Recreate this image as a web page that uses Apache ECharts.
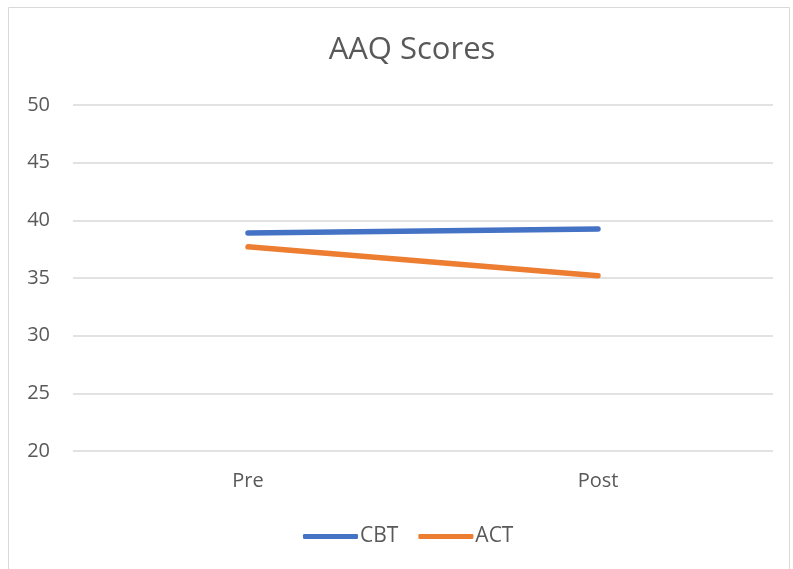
<!DOCTYPE html>
<html>
<head>
<meta charset="utf-8">
<script src="https://cdn.jsdelivr.net/npm/echarts@6/dist/echarts.min.js"></script>
<style>
  html, body { margin: 0; padding: 0; background: #fff; }
  #main { width: 793px; height: 569px; }
</style>
</head>
<body>
<div id="main"></div>
<script>
var categories = ['Pre', 'Post'];
var cbtScores = [38.9, 39.25];
var actScores = [37.7, 35.2];
var yTicks = { min: 20, max: 50, step: 5 };

var myChart = echarts.init(document.getElementById('main'));
var font = '"Open Sans", "Noto Sans", sans-serif';

var option = {
    backgroundColor: '#fff',
    animation: false,
    // light outer frame of the chart area
    graphic: [{
        type: 'rect',
        shape: { x: 8.5, y: 7.5, width: 781, height: 580 },
        style: { fill: 'none', stroke: '#d9d9d9', lineWidth: 1 }
    }],
    title: {
        text: 'AAQ Scores',
        left: 407,
        textAlign: 'center',
        top: 30,
        textStyle: { fontFamily: font, fontSize: 31, fontWeight: 'normal', color: '#595959' }
    },
    legend: {
        bottom: 17,
        left: 298,
        itemWidth: 55,
        itemHeight: 5,
        itemGap: 20,
        textStyle: { fontFamily: font, fontSize: 21, color: '#595959', padding: [0, 0, 0, -3] },
        data: [
            { name: 'CBT', icon: 'roundRect' },
            { name: 'ACT', icon: 'roundRect' }
        ]
    },
    grid: { left: 73, right: 20, top: 105, bottom: 118 },
    xAxis: {
        type: 'category',
        data: categories,
        boundaryGap: true,
        axisLine: { show: false },
        axisTick: { show: false },
        axisLabel: { fontFamily: font, fontSize: 20, color: '#595959', margin: 20 }
    },
    yAxis: {
        type: 'value',
        min: yTicks.min,
        max: yTicks.max,
        interval: yTicks.step,
        axisLine: { show: false },
        axisTick: { show: false },
        splitLine: { lineStyle: { color: '#d9d9d9', width: 1.5 } },
        axisLabel: { fontFamily: font, fontSize: 20, color: '#595959', margin: 23 }
    },
    series: [
        {
            name: 'CBT',
            type: 'line',
            data: cbtScores,
            showSymbol: false,
            lineStyle: { color: '#4472C4', width: 5.5, cap: 'round' },
            itemStyle: { color: '#4472C4' }
        },
        {
            name: 'ACT',
            type: 'line',
            data: actScores,
            showSymbol: false,
            lineStyle: { color: '#ED7D31', width: 5.5, cap: 'round' },
            itemStyle: { color: '#ED7D31' }
        }
    ]
};

myChart.setOption(option);
</script>
</body>
</html>
